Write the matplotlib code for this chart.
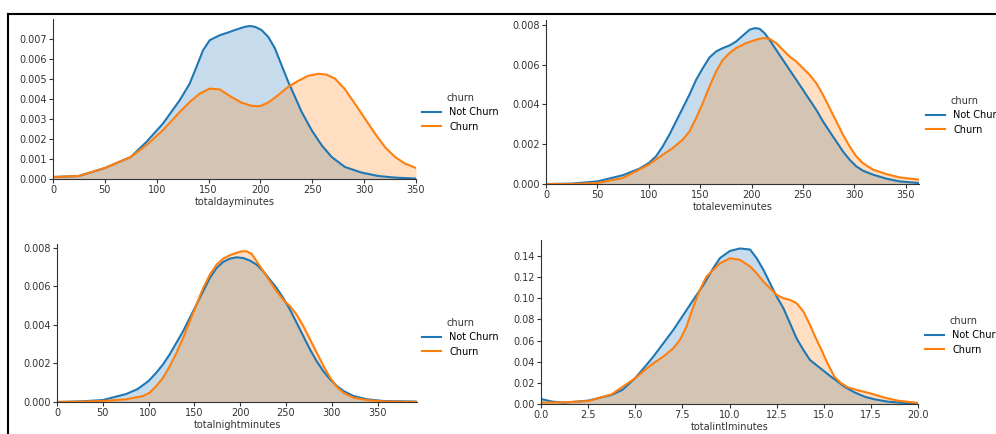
import numpy as np
import matplotlib
matplotlib.use('Agg')
import matplotlib.pyplot as plt
from matplotlib.lines import Line2D

# ------------------------------------------------------------------
# Density curves, one (x, density) pair per series
# ------------------------------------------------------------------
day_not_x = [0, 25, 50, 75, 90, 106, 122.2, 131.8, 138.3, 144.7, 151.1,
             160.8, 168, 175.4, 185, 189.8, 194.7, 201, 207.5, 214, 220.4,
             226.8, 233.3, 239.7, 249.4, 259, 268.7, 281.5, 297.6, 313.7,
             329.8, 350]
day_not_y = [0.0001, 0.00015, 0.00055, 0.0011, 0.00185, 0.00277, 0.00394,
             0.00477, 0.0056, 0.00644, 0.00694, 0.00719, 0.00731, 0.00745,
             0.00761, 0.00765, 0.00761, 0.00745, 0.00711, 0.00653, 0.00569,
             0.00486, 0.00411, 0.00336, 0.00244, 0.00169, 0.0011, 0.0006,
             0.00032, 0.00015, 0.00007, 0.00002]
day_churn_x = [0, 25, 50, 75, 90, 106, 122.2, 131.8, 141.5, 151.1, 160.8,
               172, 181.8, 191.4, 199.5, 207.5, 217, 226.8, 236.5, 246,
               255.8, 263.8, 271.9, 281.5, 291, 300.8, 310.5, 320, 329.8,
               339.4, 350]
day_churn_y = [0.0001, 0.00015, 0.00055, 0.0011, 0.00169, 0.00244,
               0.00335, 0.00385, 0.00427, 0.00452, 0.00448, 0.0041,
               0.00382, 0.00366, 0.00364, 0.00382, 0.00419, 0.00461,
               0.00491, 0.00516, 0.00526, 0.00522, 0.00502, 0.00449,
               0.00377, 0.00302, 0.00227, 0.0016, 0.0011, 0.00077, 0.00055]

eve_not_x = [0, 25, 50, 74.7, 90.9, 100, 107.1, 113.6, 120.1, 126.6,
             133.1, 139.6, 146.1, 152.6, 159.1, 165.6, 172.1, 178.6,
             185.1, 191.6, 198.1, 202.9, 207.8, 212.7, 217.5, 224, 230.5,
             237, 243.5, 250, 256.5, 263, 269.5, 276, 282.5, 289, 295.5,
             301.9, 308.4, 318.2, 331.2, 344.2, 362.7]
eve_not_y = [0.0, 0.00002, 0.00013, 0.00044, 0.00077, 0.00105, 0.00139,
             0.00189, 0.00248, 0.00315, 0.00382, 0.00449, 0.00524, 0.00582,
             0.00636, 0.00666, 0.00683, 0.00696, 0.00716, 0.00746, 0.00775,
             0.00783, 0.0078, 0.00758, 0.00725, 0.00674, 0.00624, 0.00574,
             0.00524, 0.00474, 0.00423, 0.00373, 0.00315, 0.00264, 0.00214,
             0.00164, 0.00122, 0.00089, 0.00067, 0.00047, 0.00027,
             0.00013, 0.00005]
eve_churn_x = [0, 26, 50, 74.7, 100, 113.6, 123.4, 133.1, 139.6, 146.1,
               152.6, 159.1, 165.6, 172.1, 178.6, 185.1, 194.8, 204.5, 211,
               217.5, 224, 230.5, 237, 243.5, 250, 256.5, 263, 269.5, 276,
               282.5, 289, 295.5, 301.9, 308.4, 318.2, 331.2, 344.2, 362.7]
eve_churn_y = [0.0, 0.0, 0.00005, 0.0003, 0.00097, 0.00147, 0.00181,
               0.00223, 0.00264, 0.00331, 0.00407, 0.0049, 0.00566, 0.00624,
               0.00658, 0.00683, 0.00708, 0.00725, 0.00733, 0.0073, 0.00708,
               0.00674, 0.00641, 0.00616, 0.00582, 0.00549, 0.00507,
               0.00449, 0.00382, 0.00315, 0.00248, 0.00189, 0.00139,
               0.00105, 0.00072, 0.0005, 0.00033, 0.00022]

night_not_x = [0, 24.8, 50, 75.2, 87.6, 100, 108.4, 115.7, 123, 130.3,
               137.6, 144.9, 152.2, 159.5, 166.8, 174.1, 181.4, 188.7, 196,
               203.3, 210.6, 217.9, 225.2, 232.5, 239.8, 247.1, 254.4,
               261.7, 269, 276.3, 283.6, 290.9, 298.2, 305.5, 312.8, 323.7,
               338.3, 356.6, 393]
night_not_y = [0.0, 0.00003, 0.0001, 0.00041, 0.00066, 0.00109, 0.00152,
               0.00195, 0.00247, 0.00307, 0.00367, 0.00436, 0.00505,
               0.00574, 0.00643, 0.00695, 0.00727, 0.00744, 0.00751,
               0.00747, 0.00734, 0.00713, 0.00678, 0.00635, 0.00591,
               0.00539, 0.00479, 0.0041, 0.00341, 0.00272, 0.00211, 0.00159,
               0.00117, 0.00083, 0.00057, 0.00031, 0.00014, 0.00005,
               0.00002]
night_churn_x = [0, 24.8, 50, 75.2, 93.8, 101.1, 108.4, 115.7, 123, 130.3,
                 137.6, 144.9, 152.2, 159.5, 166.8, 174.1, 181.4, 188.7,
                 196, 201.5, 207, 212.4, 217.9, 225.2, 232.5, 239.8, 247.1,
                 254.4, 261.7, 269, 276.3, 283.6, 290.9, 298.2, 305.5,
                 312.8, 323.7, 338.3, 356.6, 393]
night_churn_y = [0.0, 0.00002, 0.00005, 0.00014, 0.00031, 0.00048,
                 0.00083, 0.00125, 0.00185, 0.00254, 0.00332, 0.00418,
                 0.00505, 0.00591, 0.0066, 0.00712, 0.00744, 0.00762,
                 0.00774, 0.00782, 0.00782, 0.00769, 0.00731, 0.00678,
                 0.00626, 0.00574, 0.0053, 0.00497, 0.00453, 0.00393,
                 0.00324, 0.00256, 0.00187, 0.00126, 0.00078, 0.00048,
                 0.00022, 0.0001, 0.00003, 0.0]

intl_not_x = [0, 0.62, 1.25, 2.5, 3.74, 4.33, 4.99, 5.52, 5.96, 6.49, 7.02,
              7.55, 8.08, 8.62, 9.14, 9.5, 10.03, 10.56, 11.09, 11.44, 11.8,
              12.15, 12.5, 12.86, 13.21, 13.56, 13.92, 14.27, 14.8, 15.38,
              15.74, 16.1, 16.63, 17.17, 17.7, 18.41, 19.3, 20]
intl_not_y = [0.0047, 0.0022, 0.0013, 0.0032, 0.0085, 0.0135, 0.0243,
              0.0353, 0.0448, 0.0574, 0.070, 0.0842, 0.0984, 0.1126, 0.1284,
              0.138, 0.1447, 0.147, 0.146, 0.1378, 0.1268, 0.1142, 0.1016,
              0.0905, 0.0763, 0.062, 0.0511, 0.0416, 0.0341, 0.0259, 0.0211,
              0.0164, 0.011, 0.0069, 0.0044, 0.0022, 0.0009, 0.0006]
intl_churn_x = [0, 1.25, 2.5, 3.74, 4.99, 5.52, 5.96, 6.49, 7.02, 7.37,
                7.72, 8.08, 8.43, 8.78, 9.14, 9.5, 10.03, 10.56, 11.09,
                11.44, 11.8, 12.15, 12.5, 12.86, 13.21, 13.56, 13.92, 14.27,
                14.54, 14.8, 15.2, 15.56, 15.92, 16.27, 16.81, 17.52, 18.23,
                18.95, 20]
intl_churn_y = [0.0013, 0.0016, 0.0028, 0.0091, 0.0243, 0.0322, 0.0385,
                0.0448, 0.0527, 0.0606, 0.0732, 0.092, 0.1079, 0.1205,
                0.1268, 0.133, 0.1378, 0.1362, 0.13, 0.1236, 0.1157, 0.1094,
                0.1031, 0.1, 0.0984, 0.0952, 0.0874, 0.0748, 0.0637, 0.0542,
                0.0385, 0.0259, 0.0196, 0.0158, 0.013, 0.0098, 0.006, 0.0031,
                0.001]

labels = ['Not Churn', 'Churn']
legend_title = 'churn'

# name, series, xlim, ylim, yticks, format, axes box (px), legend corner (px)
panels = [
    ('totaldayminutes', [(day_not_x, day_not_y), (day_churn_x, day_churn_y)],
     (0, 350), (0, 0.0080), np.arange(0, 0.0071, 0.001), '%.3f',
     [53, 19, 416, 179], (422, 93)),
    ('totaleveminutes', [(eve_not_x, eve_not_y), (eve_churn_x, eve_churn_y)],
     (0, 363), (0, 0.00824), np.arange(0, 0.0081, 0.002), '%.3f',
     [546, 20, 919, 184], (926, 96)),
    ('totalnightminutes', [(night_not_x, night_not_y),
                           (night_churn_x, night_churn_y)],
     (0, 393), (0, 0.0082), np.arange(0, 0.0081, 0.002), '%.3f',
     [57, 244, 417, 402], (422, 318)),
    ('totalintlminutes', [(intl_not_x, intl_not_y),
                          (intl_churn_x, intl_churn_y)],
     (0, 20), (0, 0.155), np.arange(0, 0.141, 0.02), '%.2f',
     [541, 240, 918, 404], (925, 316)),
]

W, H = 996, 434
colours = ['#1f77b4', '#ff7f0e']
grey = '#333333'

fig = plt.figure(figsize=(W / 100, H / 100), dpi=100)

for name, series, xl, yl, yt, fmt, box, leg in panels:
    x0, y0, x1, y1 = box
    ax = fig.add_axes([x0 / W, 1 - y1 / H, (x1 - x0) / W, (y1 - y0) / H])
    handles = []
    for (x, y), c in zip(series, colours):
        ax.fill_between(x, y, color=c, alpha=0.25, lw=0)
        h, = ax.plot(x, y, color=c, lw=1.5, solid_joinstyle='round')
        handles.append(h)
    ax.set_xlim(xl)
    ax.set_ylim(yl)
    ax.set_yticks(yt)
    ax.set_yticklabels([fmt % v for v in yt])
    ax.tick_params(labelsize=7, length=3, width=0.8, pad=1.5, colors=grey)
    ax.spines['top'].set_visible(False)
    ax.spines['right'].set_visible(False)
    for s in ['left', 'bottom']:
        ax.spines[s].set_color(grey)
        ax.spines[s].set_linewidth(0.8)
    ax.set_xlabel(name, fontsize=7, labelpad=1, color=grey)
    lg = ax.legend(handles, labels, title=legend_title, fontsize=7,
                   title_fontsize=7, frameon=False, loc='upper left',
                   bbox_to_anchor=(leg[0] / W, 1 - leg[1] / H),
                   bbox_transform=fig.transFigure, borderpad=0,
                   borderaxespad=0, handlelength=2.0, handletextpad=0.8,
                   labelspacing=0.45)
    lg.get_title().set_color(grey)

# black screenshot frame (top and left edges)
fig.add_artist(Line2D([8 / W, 1], [1 - 14 / H, 1 - 14 / H], color='black',
                      lw=1.5, transform=fig.transFigure))
fig.add_artist(Line2D([8 / W, 8 / W], [0, 1 - 14 / H], color='black',
                      lw=1.5, transform=fig.transFigure))

fig.savefig('out.png', dpi=100)
